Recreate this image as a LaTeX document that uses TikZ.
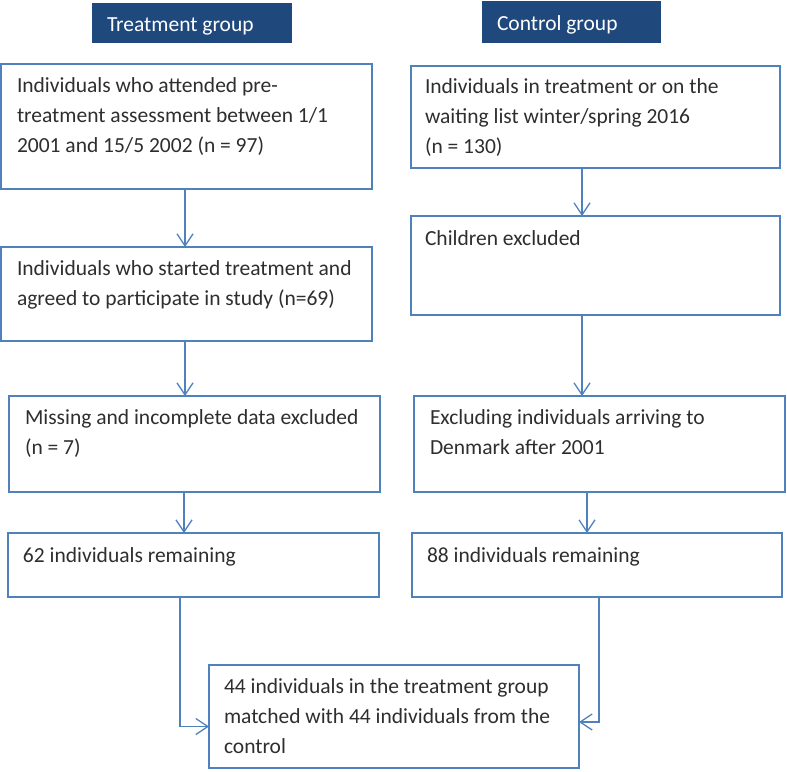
\documentclass[tikz,border=0pt]{standalone}
\usepackage{fontspec}
\setmainfont{Carlito}
\usetikzlibrary{arrows.meta,calc}
\definecolor{lineblue}{HTML}{4F81BD}
\definecolor{hdrblue}{HTML}{1F497D}
\definecolor{txtgray}{HTML}{2E2E2E}
\tikzset{
  box/.style={draw=lineblue, line width=1.3pt, rectangle, inner sep=0pt, outer sep=0pt},
  hdr/.style={fill=hdrblue, rectangle, inner sep=0pt, outer sep=0pt},
  txt/.style={anchor=base west, inner sep=0pt, outer sep=0pt, text=txtgray,
    font=\fontsize{21.5}{30}\selectfont},
  htxt/.style={anchor=base west, inner sep=0pt, outer sep=0pt, text=white,
    font=\fontsize{21.5}{30}\selectfont},
  arr/.style={draw=lineblue, line width=1.3pt, -{Straight Barb[length=12pt,width=16pt,line width=1.3pt]}}
}
\begin{document}
\begin{tikzpicture}[x=1pt,y=-1pt]
\useasboundingbox (0,0) rectangle (787,771);
\fill[white] (0,0) rectangle (787,771);
% headers
\node[hdr, minimum width=200pt, minimum height=40pt] (ht) at (192,23) {};
\node[htxt] (httxt) at ($(ht.north west)+(15,28)$) {Treatment group};
\node[hdr, minimum width=179pt, minimum height=42pt] (hc) at (571.5,22) {};
\node[htxt] (hctxt) at ($(hc.north west)+(15,29)$) {Control group};
% treatment boxes
\node[box, minimum width=371pt, minimum height=125pt] (t1) at (186.5,126.5) {};
\node[txt] (t1txt) at ($(t1.north west)+(16,28)$) {\parbox[t]{350pt}{Individuals who attended pre-\\treatment assessment between 1/1\\2001 and 15/5 2002 (n = 97)}};
\node[box, minimum width=371pt, minimum height=94pt] (t2) at (186.5,294) {};
\node[txt] (t2txt) at ($(t2.north west)+(16,28)$) {\parbox[t]{350pt}{Individuals who started treatment and\\agreed to participate in study (n=69)}};
\node[box, minimum width=371pt, minimum height=96pt] (t3) at (194.5,444) {};
\node[txt] (t3txt) at ($(t3.north west)+(16,28)$) {\parbox[t]{350pt}{Missing and incomplete data excluded\\(n = 7)}};
\node[box, minimum width=371pt, minimum height=64pt] (t4) at (193.5,565) {};
\node[txt] (t4txt) at ($(t4.north west)+(15,29)$) {62 individuals remaining};
% control boxes
\node[box, minimum width=369pt, minimum height=102pt] (c1) at (595.5,117) {};
\node[txt] (c1txt) at ($(c1.north west)+(14,27)$) {\parbox[t]{350pt}{Individuals in treatment or on the\\waiting list winter/spring 2016\\(n = 130)}};
\node[box, minimum width=369pt, minimum height=99pt] (c2) at (595.5,265.5) {};
\node[txt] (c2txt) at ($(c2.north west)+(14,29)$) {Children excluded};
\node[box, minimum width=371pt, minimum height=96pt] (c3) at (599.5,444) {};
\node[txt] (c3txt) at ($(c3.north west)+(16,28)$) {\parbox[t]{350pt}{Excluding individuals arriving to\\Denmark after 2001}};
\node[box, minimum width=370pt, minimum height=64pt] (c4) at (597,565) {};
\node[txt] (c4txt) at ($(c4.north west)+(15,29)$) {88 individuals remaining};
% final box
\node[box, minimum width=370pt, minimum height=103pt] (f) at (394,716.5) {};
\node[txt] (ftxt) at ($(f.north west)+(15,28)$) {\parbox[t]{350pt}{44 individuals in the treatment group\\matched with 44 individuals from the\\control}};
% connectors
\coordinate (t1s) at ($(t1.south)+(-1.5,0)$);
\draw[arr] (t1s) -- (t1s |- t2.north);
\coordinate (t2s) at ($(t2.south)+(-1.5,0)$);
\draw[arr] (t2s) -- (t2s |- t3.north);
\coordinate (t3s) at ($(t3.south)+(-10.5,0)$);
\draw[arr] (t3s) -- (t3s |- t4.north);
\coordinate (c1s) at ($(c1.south)+(-13.5,0)$);
\draw[arr] (c1s) -- (c1s |- c2.north);
\coordinate (c2s) at ($(c2.south)+(-13.5,0)$);
\draw[arr] (c2s) -- (c2s |- c3.north);
\coordinate (c3s) at ($(c3.south)+(-12.5,0)$);
\draw[arr] (c3s) -- (c3s |- c4.north);
\coordinate (t4s) at ($(t4.south)+(-13.5,0)$);
\coordinate (fw) at ($(f.west)+(0,10)$);
\draw[arr] (t4s) |- (fw);
\coordinate (c4s) at ($(c4.south)+(2,0)$);
\coordinate (fe) at ($(f.east)+(0,5.5)$);
\draw[arr] (c4s) |- (fe);
\end{tikzpicture}
\end{document}
